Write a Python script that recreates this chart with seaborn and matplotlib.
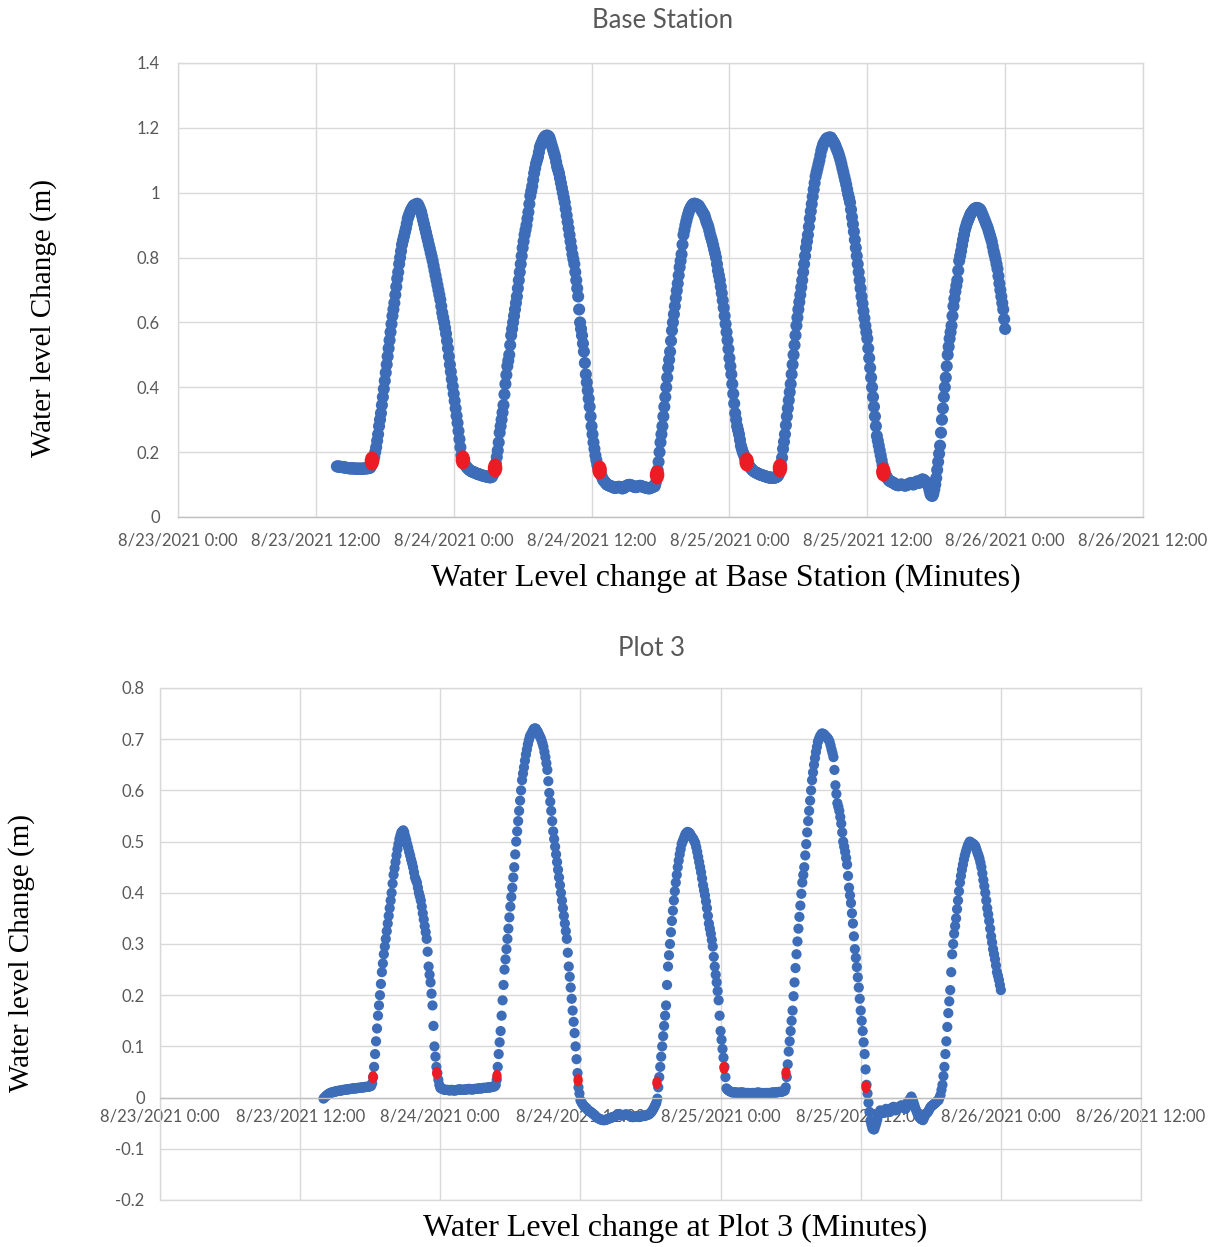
import numpy as np
import pandas as pd
import matplotlib
matplotlib.use("Agg")
import matplotlib.pyplot as plt
import matplotlib.dates as mdates
from matplotlib.path import Path
from matplotlib.markers import MarkerStyle
from matplotlib.transforms import Affine2D
from matplotlib.ticker import FuncFormatter, MultipleLocator
import seaborn as sns

# ---------------- DATA ----------------
# Base Station: 5-minute readings starting 8/23/2021 13:50 (water level change, m)
base_start = "2021-08-23 13:50"
base_level = [
    0.156, 0.156,                                                                   # 13:50
    0.155, 0.155, 0.155, 0.154, 0.154, 0.153, 0.153, 0.152, 0.152, 0.151, 0.151, 0.150,  # 14
    0.150, 0.150, 0.150, 0.150, 0.150, 0.149, 0.149, 0.149, 0.149, 0.149, 0.149, 0.149,  # 15
    0.149, 0.149, 0.149, 0.150, 0.150, 0.150, 0.150, 0.151, 0.151, 0.153, 0.160, 0.168,  # 16
    0.175, 0.185, 0.200, 0.215, 0.235, 0.255, 0.280, 0.300, 0.320, 0.345, 0.370, 0.395,  # 17
    0.420, 0.445, 0.470, 0.495, 0.520, 0.545, 0.570, 0.595, 0.620, 0.640, 0.660, 0.685,  # 18
    0.710, 0.735, 0.755, 0.780, 0.800, 0.820, 0.840, 0.853, 0.865, 0.878, 0.890, 0.905,  # 19
    0.920, 0.929, 0.937, 0.944, 0.950, 0.955, 0.960, 0.962, 0.963, 0.965, 0.966, 0.962,  # 20
    0.955, 0.948, 0.940, 0.928, 0.915, 0.903, 0.890, 0.878, 0.865, 0.853, 0.840, 0.828,  # 21
    0.815, 0.803, 0.790, 0.775, 0.760, 0.745, 0.730, 0.715, 0.700, 0.685, 0.670, 0.650,  # 22
    0.630, 0.615, 0.600, 0.583, 0.565, 0.543, 0.520, 0.495, 0.470, 0.448, 0.425, 0.403,  # 23
    0.380, 0.358, 0.335, 0.312, 0.290, 0.265, 0.240, 0.215, 0.190, 0.178, 0.170, 0.165,  # 8/24 0
    0.160, 0.156, 0.152, 0.149, 0.146, 0.144, 0.142, 0.140, 0.139, 0.138, 0.137, 0.135,  # 1
    0.134, 0.133, 0.132, 0.131, 0.130, 0.129, 0.128, 0.127, 0.126, 0.126, 0.125, 0.124,  # 2
    0.124, 0.123, 0.122, 0.123, 0.124, 0.130, 0.140, 0.152, 0.165, 0.185, 0.205, 0.230,  # 3
    0.260, 0.280, 0.300, 0.322, 0.345, 0.378, 0.410, 0.438, 0.465, 0.482, 0.500, 0.530,  # 4
    0.560, 0.580, 0.600, 0.620, 0.640, 0.660, 0.680, 0.705, 0.730, 0.755, 0.780, 0.805,  # 5
    0.830, 0.850, 0.870, 0.885, 0.900, 0.920, 0.940, 0.965, 0.990, 1.005, 1.020, 1.040,  # 6
    1.060, 1.075, 1.090, 1.100, 1.110, 1.125, 1.140, 1.148, 1.155, 1.162, 1.168, 1.172,  # 7
    1.175, 1.176, 1.176, 1.174, 1.170, 1.160, 1.150, 1.140, 1.130, 1.120, 1.110, 1.095,  # 8
    1.080, 1.070, 1.060, 1.045, 1.030, 1.015, 1.000, 0.985, 0.970, 0.950, 0.930, 0.910,  # 9
    0.890, 0.870, 0.850, 0.830, 0.810, 0.795, 0.780, 0.755, 0.730, 0.705, 0.680, 0.640,  # 10
    0.600, 0.580, 0.560, 0.535, 0.510, 0.475, 0.440, 0.415, 0.390, 0.365, 0.340, 0.310,  # 11
    0.280, 0.255, 0.230, 0.210, 0.190, 0.175, 0.160, 0.152, 0.145, 0.138, 0.130, 0.122,  # 12
    0.115, 0.111, 0.108, 0.104, 0.100, 0.099, 0.098, 0.096, 0.095, 0.094, 0.093, 0.091,  # 13
    0.090, 0.090, 0.091, 0.092, 0.093, 0.093, 0.092, 0.090, 0.088, 0.089, 0.090, 0.093,  # 14
    0.095, 0.097, 0.098, 0.099, 0.099, 0.098, 0.097, 0.095, 0.094, 0.093, 0.092, 0.093,  # 15
    0.094, 0.095, 0.096, 0.096, 0.095, 0.094, 0.093, 0.092, 0.091, 0.090, 0.090, 0.089,  # 16
    0.088, 0.089, 0.090, 0.092, 0.093, 0.094, 0.095, 0.105, 0.125, 0.145, 0.170, 0.200,  # 17
    0.230, 0.255, 0.280, 0.310, 0.340, 0.370, 0.400, 0.430, 0.460, 0.485, 0.510, 0.543,  # 18
    0.575, 0.600, 0.625, 0.650, 0.675, 0.698, 0.720, 0.745, 0.770, 0.790, 0.810, 0.840,  # 19
    0.870, 0.885, 0.900, 0.913, 0.925, 0.935, 0.945, 0.951, 0.957, 0.961, 0.965, 0.966,  # 20
    0.966, 0.965, 0.963, 0.962, 0.960, 0.955, 0.950, 0.945, 0.940, 0.935, 0.930, 0.920,  # 21
    0.910, 0.903, 0.895, 0.883, 0.870, 0.860, 0.850, 0.838, 0.825, 0.813, 0.800, 0.780,  # 22
    0.760, 0.745, 0.730, 0.710, 0.690, 0.668, 0.645, 0.620, 0.595, 0.570, 0.545, 0.518,  # 23
    0.490, 0.465, 0.440, 0.410, 0.380, 0.350, 0.320, 0.300, 0.280, 0.268, 0.255, 0.238,  # 8/25 0
    0.220, 0.210, 0.200, 0.193, 0.185, 0.178, 0.170, 0.165, 0.160, 0.156, 0.152, 0.148,  # 1
    0.145, 0.142, 0.140, 0.138, 0.137, 0.135, 0.134, 0.132, 0.131, 0.130, 0.129, 0.128,  # 2
    0.127, 0.126, 0.125, 0.124, 0.123, 0.122, 0.122, 0.121, 0.121, 0.121, 0.121, 0.121,  # 3
    0.122, 0.123, 0.125, 0.128, 0.135, 0.145, 0.160, 0.183, 0.210, 0.232, 0.255, 0.283,  # 4
    0.310, 0.335, 0.360, 0.385, 0.410, 0.440, 0.470, 0.500, 0.530, 0.560, 0.590, 0.615,  # 5
    0.640, 0.663, 0.685, 0.708, 0.730, 0.755, 0.780, 0.805, 0.830, 0.850, 0.870, 0.895,  # 6
    0.920, 0.943, 0.965, 0.988, 1.010, 1.030, 1.050, 1.063, 1.075, 1.088, 1.100, 1.115,  # 7
    1.130, 1.140, 1.150, 1.155, 1.160, 1.165, 1.168, 1.169, 1.170, 1.170, 1.170, 1.165,  # 8
    1.160, 1.155, 1.150, 1.143, 1.135, 1.128, 1.120, 1.110, 1.100, 1.088, 1.075, 1.063,  # 9
    1.050, 1.038, 1.025, 1.010, 0.995, 0.983, 0.970, 0.948, 0.925, 0.903, 0.880, 0.855,  # 10
    0.830, 0.805, 0.780, 0.755, 0.730, 0.705, 0.680, 0.658, 0.635, 0.613, 0.590, 0.570,  # 11
    0.550, 0.520, 0.490, 0.460, 0.430, 0.400, 0.370, 0.340, 0.310, 0.280, 0.250, 0.235,  # 12
    0.220, 0.205, 0.190, 0.175, 0.160, 0.148, 0.135, 0.130, 0.125, 0.120, 0.115, 0.112,  # 13
    0.110, 0.109, 0.107, 0.106, 0.104, 0.102, 0.100, 0.099, 0.098, 0.098, 0.099, 0.100,  # 14
    0.100, 0.099, 0.098, 0.097, 0.097, 0.098, 0.100, 0.101, 0.103, 0.104, 0.105, 0.102,  # 15
    0.100, 0.102, 0.104, 0.107, 0.110, 0.108, 0.105, 0.108, 0.112, 0.115, 0.116, 0.114,  # 16
    0.112, 0.108, 0.105, 0.100, 0.095, 0.082, 0.070, 0.066, 0.065, 0.072, 0.085, 0.100,  # 17
    0.120, 0.145, 0.170, 0.195, 0.220, 0.260, 0.300, 0.335, 0.370, 0.400, 0.430, 0.465,  # 18
    0.500, 0.525, 0.550, 0.570, 0.590, 0.620, 0.650, 0.673, 0.695, 0.713, 0.730, 0.760,  # 19
    0.790, 0.805, 0.820, 0.838, 0.855, 0.870, 0.885, 0.895, 0.905, 0.913, 0.920, 0.928,  # 20
    0.935, 0.939, 0.943, 0.947, 0.950, 0.952, 0.953, 0.953, 0.952, 0.950, 0.948, 0.942,  # 21
    0.935, 0.928, 0.920, 0.913, 0.905, 0.898, 0.890, 0.880, 0.870, 0.860, 0.850, 0.835,  # 22
    0.820, 0.808, 0.795, 0.780, 0.765, 0.743, 0.720, 0.700, 0.680, 0.660, 0.640, 0.610,  # 23
    0.580,                                                                          # 8/26 0:00
]
base_red_times = ["2021-08-23 16:53", "2021-08-24 00:48", "2021-08-24 03:36",
                  "2021-08-24 12:42", "2021-08-24 17:42", "2021-08-25 01:30",
                  "2021-08-25 04:24", "2021-08-25 13:24"]
base_red_level = [0.173, 0.176, 0.151, 0.145, 0.130, 0.170, 0.151, 0.139]

# Plot 3: 5-minute readings starting 8/23/2021 14:00
plot3_start = "2021-08-23 14:00"
plot3_level = [
    -0.002, 0.000, 0.002, 0.004, 0.005, 0.007, 0.008, 0.009, 0.010, 0.010, 0.011, 0.011,  # 14
    0.012, 0.012, 0.013, 0.013, 0.013, 0.014, 0.014, 0.014, 0.015, 0.015, 0.015, 0.016,   # 15
    0.016, 0.016, 0.016, 0.017, 0.017, 0.017, 0.018, 0.018, 0.018, 0.018, 0.018, 0.019,   # 16
    0.019, 0.019, 0.019, 0.020, 0.020, 0.020, 0.020, 0.021, 0.021, 0.021, 0.021, 0.022,   # 17
    0.022, 0.023, 0.028, 0.040, 0.060, 0.085, 0.110, 0.135, 0.160, 0.180, 0.200, 0.222,   # 18
    0.245, 0.262, 0.280, 0.295, 0.310, 0.325, 0.340, 0.355, 0.370, 0.385, 0.400, 0.418,   # 19
    0.435, 0.448, 0.460, 0.473, 0.485, 0.495, 0.505, 0.512, 0.518, 0.520, 0.522, 0.518,   # 20
    0.510, 0.503, 0.495, 0.488, 0.480, 0.473, 0.465, 0.458, 0.450, 0.440, 0.430, 0.425,   # 21
    0.420, 0.410, 0.400, 0.393, 0.385, 0.373, 0.360, 0.348, 0.335, 0.323, 0.310, 0.285,   # 22
    0.256, 0.240, 0.225, 0.203, 0.180, 0.140, 0.100, 0.080, 0.060, 0.048, 0.035, 0.025,   # 23
    0.019, 0.018, 0.017, 0.016, 0.016, 0.015, 0.015, 0.015, 0.015, 0.014, 0.014, 0.015,   # 8/24 0
    0.015, 0.014, 0.014, 0.014, 0.014, 0.015, 0.015, 0.016, 0.016, 0.016, 0.015, 0.015,   # 1
    0.015, 0.016, 0.016, 0.016, 0.016, 0.017, 0.017, 0.016, 0.016, 0.016, 0.016, 0.017,   # 2
    0.017, 0.017, 0.017, 0.018, 0.018, 0.018, 0.018, 0.018, 0.019, 0.019, 0.019, 0.019,   # 3
    0.019, 0.020, 0.020, 0.020, 0.020, 0.021, 0.021, 0.022, 0.022, 0.025, 0.035, 0.060,   # 4
    0.085, 0.108, 0.130, 0.160, 0.190, 0.220, 0.250, 0.270, 0.290, 0.310, 0.330, 0.352,   # 5
    0.373, 0.392, 0.410, 0.430, 0.450, 0.475, 0.500, 0.520, 0.540, 0.560, 0.580, 0.600,   # 6
    0.620, 0.633, 0.645, 0.658, 0.670, 0.680, 0.690, 0.698, 0.705, 0.709, 0.712, 0.716,   # 7
    0.720, 0.721, 0.721, 0.718, 0.715, 0.711, 0.707, 0.703, 0.698, 0.692, 0.685, 0.675,   # 8
    0.665, 0.653, 0.640, 0.618, 0.595, 0.578, 0.560, 0.540, 0.520, 0.505, 0.490, 0.475,   # 9
    0.460, 0.445, 0.430, 0.415, 0.400, 0.385, 0.370, 0.355, 0.340, 0.325, 0.310, 0.283,   # 10
    0.256, 0.236, 0.215, 0.193, 0.170, 0.148, 0.126, 0.100, 0.075, 0.048, 0.020, 0.008,   # 11
    -0.005, -0.009, -0.012, -0.015, -0.017, -0.019, -0.020, -0.023, -0.025, -0.026, -0.027, -0.029,  # 12
    -0.030, -0.032, -0.033, -0.035, -0.037, -0.039, -0.040, -0.041, -0.042, -0.043, -0.043, -0.044,  # 13
    -0.044, -0.044, -0.043, -0.043, -0.042, -0.041, -0.040, -0.040, -0.039, -0.038, -0.038, -0.037,  # 14
    -0.036, -0.035, -0.034, -0.033, -0.032, -0.034, -0.035, -0.035, -0.034, -0.034, -0.033, -0.033,  # 15
    -0.033, -0.034, -0.035, -0.036, -0.037, -0.038, -0.038, -0.038, -0.037, -0.037, -0.036, -0.037,  # 16
    -0.038, -0.037, -0.036, -0.035, -0.035, -0.036, -0.036, -0.035, -0.034, -0.034, -0.033, -0.032,  # 17
    -0.030, -0.028, -0.025, -0.022, -0.018, -0.014, -0.010, -0.002, 0.020, 0.040, 0.060, 0.080,      # 18
    0.100, 0.120, 0.140, 0.160, 0.180, 0.220, 0.256, 0.278, 0.300, 0.323, 0.345, 0.365,   # 19
    0.385, 0.403, 0.420, 0.435, 0.450, 0.463, 0.475, 0.485, 0.495, 0.500, 0.505, 0.510,   # 20
    0.515, 0.517, 0.519, 0.518, 0.517, 0.514, 0.510, 0.508, 0.505, 0.501, 0.497, 0.489,   # 21
    0.480, 0.470, 0.460, 0.450, 0.440, 0.428, 0.415, 0.405, 0.395, 0.383, 0.370, 0.355,   # 22
    0.340, 0.330, 0.320, 0.308, 0.295, 0.275, 0.256, 0.240, 0.225, 0.208, 0.190, 0.160,   # 23
    0.130, 0.113, 0.095, 0.078, 0.060, 0.040, 0.018, 0.016, 0.014, 0.013, 0.012, 0.011,   # 8/25 0
    0.010, 0.010, 0.010, 0.010, 0.010, 0.010, 0.009, 0.009, 0.010, 0.010, 0.010, 0.010,   # 1
    0.009, 0.009, 0.009, 0.009, 0.009, 0.009, 0.008, 0.008, 0.009, 0.009, 0.009, 0.009,   # 2
    0.009, 0.009, 0.010, 0.010, 0.009, 0.009, 0.009, 0.009, 0.008, 0.008, 0.009, 0.009,   # 3
    0.009, 0.009, 0.009, 0.009, 0.009, 0.010, 0.010, 0.010, 0.010, 0.010, 0.010, 0.011,   # 4
    0.011, 0.011, 0.011, 0.012, 0.012, 0.013, 0.014, 0.020, 0.040, 0.065, 0.090, 0.110,   # 5
    0.130, 0.150, 0.170, 0.198, 0.225, 0.253, 0.280, 0.305, 0.330, 0.353, 0.375, 0.398,   # 6
    0.420, 0.435, 0.450, 0.473, 0.495, 0.518, 0.540, 0.560, 0.580, 0.600, 0.620, 0.635,   # 7
    0.650, 0.663, 0.675, 0.685, 0.695, 0.700, 0.705, 0.708, 0.711, 0.711, 0.710, 0.708,   # 8
    0.706, 0.704, 0.702, 0.699, 0.695, 0.688, 0.680, 0.673, 0.665, 0.640, 0.610, 0.593,   # 9
    0.575, 0.568, 0.560, 0.548, 0.535, 0.518, 0.500, 0.490, 0.480, 0.468, 0.455, 0.433,   # 10
    0.410, 0.395, 0.380, 0.360, 0.340, 0.315, 0.290, 0.273, 0.255, 0.235, 0.215, 0.193,   # 11
    0.170, 0.150, 0.130, 0.108, 0.085, 0.055, 0.025, 0.008, -0.010, -0.028, -0.045, -0.053,          # 12
    -0.060, -0.062, -0.062, -0.056, -0.050, -0.043, -0.035, -0.030, -0.025, -0.027, -0.028, -0.029,  # 13
    -0.030, -0.026, -0.022, -0.024, -0.025, -0.027, -0.028, -0.024, -0.020, -0.019, -0.018, -0.022,  # 14
    -0.025, -0.023, -0.020, -0.019, -0.018, -0.016, -0.015, -0.018, -0.020, -0.021, -0.022, -0.016,  # 15
    -0.010, -0.007, -0.005, -0.002, 0.002, -0.003, -0.008, -0.014, -0.020, -0.025, -0.030, -0.034,   # 16
    -0.038, -0.040, -0.042, -0.043, -0.044, -0.040, -0.035, -0.032, -0.030, -0.028, -0.025, -0.021,  # 17
    -0.018, -0.016, -0.015, -0.013, -0.012, -0.010, -0.008, -0.006, -0.005, 0.000, 0.005, 0.015,     # 18
    0.025, 0.042, 0.060, 0.085, 0.110, 0.138, 0.165, 0.188, 0.210, 0.245, 0.280, 0.300,   # 19
    0.320, 0.335, 0.350, 0.368, 0.385, 0.403, 0.420, 0.433, 0.445, 0.455, 0.465, 0.473,   # 20
    0.480, 0.486, 0.492, 0.496, 0.500, 0.499, 0.497, 0.496, 0.495, 0.493, 0.490, 0.484,   # 21
    0.478, 0.473, 0.467, 0.459, 0.450, 0.438, 0.425, 0.413, 0.400, 0.385, 0.370, 0.358,   # 22
    0.345, 0.330, 0.315, 0.303, 0.290, 0.280, 0.270, 0.258, 0.245, 0.238, 0.230, 0.220,   # 23
    0.210,                                                                              # 8/26 0:00
]
plot3_red_times = ["2021-08-23 18:14", "2021-08-23 23:42", "2021-08-24 04:51",
                   "2021-08-24 11:48", "2021-08-24 18:33", "2021-08-25 00:18",
                   "2021-08-25 05:36", "2021-08-25 12:27"]
plot3_red_level = [0.040, 0.048, 0.042, 0.034, 0.029, 0.058, 0.048, 0.021]

x_ticks = pd.date_range("2021-08-23 00:00", "2021-08-26 12:00", freq="12h")

titles = ["Base Station", "Plot 3"]
x_labels = ["Water Level change at Base Station (Minutes)",
            "Water Level change at Plot 3 (Minutes)"]
y_label = "Water level Change (m)"

# ---------------- STYLE ----------------
sns.set_theme(style="white")
plt.rcParams["font.family"] = ["Lato", "DejaVu Sans"]

BLUE = "#3D6DB8"
RED = "#EC1C24"
GRID = "#D9D9D9"
AXIS = "#BFBFBF"
TXT = "#595959"

base_df = pd.DataFrame({
    "time": pd.date_range(base_start, periods=len(base_level), freq="5min"),
    "level": base_level})
base_red = pd.DataFrame({"time": pd.to_datetime(base_red_times), "level": base_red_level})
p3_df = pd.DataFrame({
    "time": pd.date_range(plot3_start, periods=len(plot3_level), freq="5min"),
    "level": plot3_level})
p3_red = pd.DataFrame({"time": pd.to_datetime(plot3_red_times), "level": plot3_red_level})

W, H = 1215, 1247
fig = plt.figure(figsize=(W / 100, H / 100), dpi=100)
fig.patch.set_facecolor("white")

def frac_box(l, t, r, b):
    return [l / W, 1 - b / H, (r - l) / W, (b - t) / H]

ax1 = fig.add_axes(frac_box(178, 63, 1143, 517))
ax2 = fig.add_axes(frac_box(160, 688, 1141, 1200))

ellipse = MarkerStyle(Path.unit_circle().transformed(Affine2D().scale(0.76, 1.0)))

def date_fmt(v, pos):
    d = mdates.num2date(v)
    return f"{d.month}/{d.day}/{d.year} {d.hour}:{d.minute:02d}"

def num_fmt(v, pos):
    r = round(v, 2)
    return f"{r:g}" if r != 0 else "0"

def style_axes(ax, ylim, ystep, xpad, ypad):
    ax.set_xlim(x_ticks[0], x_ticks[-1])
    ax.set_ylim(*ylim)
    ax.set_xticks(x_ticks)
    ax.xaxis.set_major_formatter(FuncFormatter(date_fmt))
    ax.yaxis.set_major_locator(MultipleLocator(ystep))
    ax.yaxis.set_major_formatter(FuncFormatter(num_fmt))
    ax.grid(True, color=GRID, linewidth=1.0)
    ax.set_axisbelow(True)
    for s in ["left", "right", "top"]:
        ax.spines[s].set_color(GRID)
        ax.spines[s].set_linewidth(1.0)
    ax.spines["bottom"].set_color(AXIS)
    ax.spines["bottom"].set_linewidth(1.0)
    ax.tick_params(axis="both", length=0, colors=TXT, labelsize=12)
    ax.tick_params(axis="x", pad=xpad)
    ax.tick_params(axis="y", pad=ypad)
    ax.set_xlabel("")
    ax.set_ylabel("")

# top panel
sns.scatterplot(data=base_df, x="time", y="level", ax=ax1, color=BLUE, s=76,
                linewidth=0, edgecolor="none", legend=False)
sns.scatterplot(data=base_red, x="time", y="level", ax=ax1, color=RED, s=190,
                marker=ellipse, linewidth=0, edgecolor="none", legend=False, zorder=3)
style_axes(ax1, (0, 1.4), 0.2, 11, 13)

# bottom panel
sns.scatterplot(data=p3_df, x="time", y="level", ax=ax2, color=BLUE, s=54,
                linewidth=0, edgecolor="none", legend=False)
sns.scatterplot(data=p3_red, x="time", y="level", ax=ax2, color=RED, s=80,
                marker=ellipse, linewidth=0, edgecolor="none", legend=False, zorder=3)
style_axes(ax2, (-0.2, 0.8), 0.1, 8, 11)
ax2.spines["bottom"].set_position(("data", 0))
ax2.axhline(-0.2, color=GRID, linewidth=1.0, clip_on=False, zorder=0.5)

# titles and axis labels
fig.text(663 / W, 1 - 20 / H, titles[0], ha="center", va="center",
         fontsize=18.5, color=TXT)
fig.text(652 / W, 1 - 649 / H, titles[1], ha="center", va="center",
         fontsize=18.5, color=TXT)
serif = ["Liberation Serif", "DejaVu Serif"]
fig.text(726 / W, 1 - 578 / H, x_labels[0], ha="center", va="center",
         fontsize=23, family=serif, color="black")
fig.text(675 / W, 1 - 1228 / H, x_labels[1], ha="center", va="center",
         fontsize=23, family=serif, color="black")
fig.text(44 / W, 1 - 318 / H, y_label, ha="center", va="center", rotation=90,
         fontsize=21, family=serif, color="black")
fig.text(22 / W, 1 - 953 / H, y_label, ha="center", va="center", rotation=90,
         fontsize=21, family=serif, color="black")

fig.savefig("out.png", dpi=100, facecolor="white")
